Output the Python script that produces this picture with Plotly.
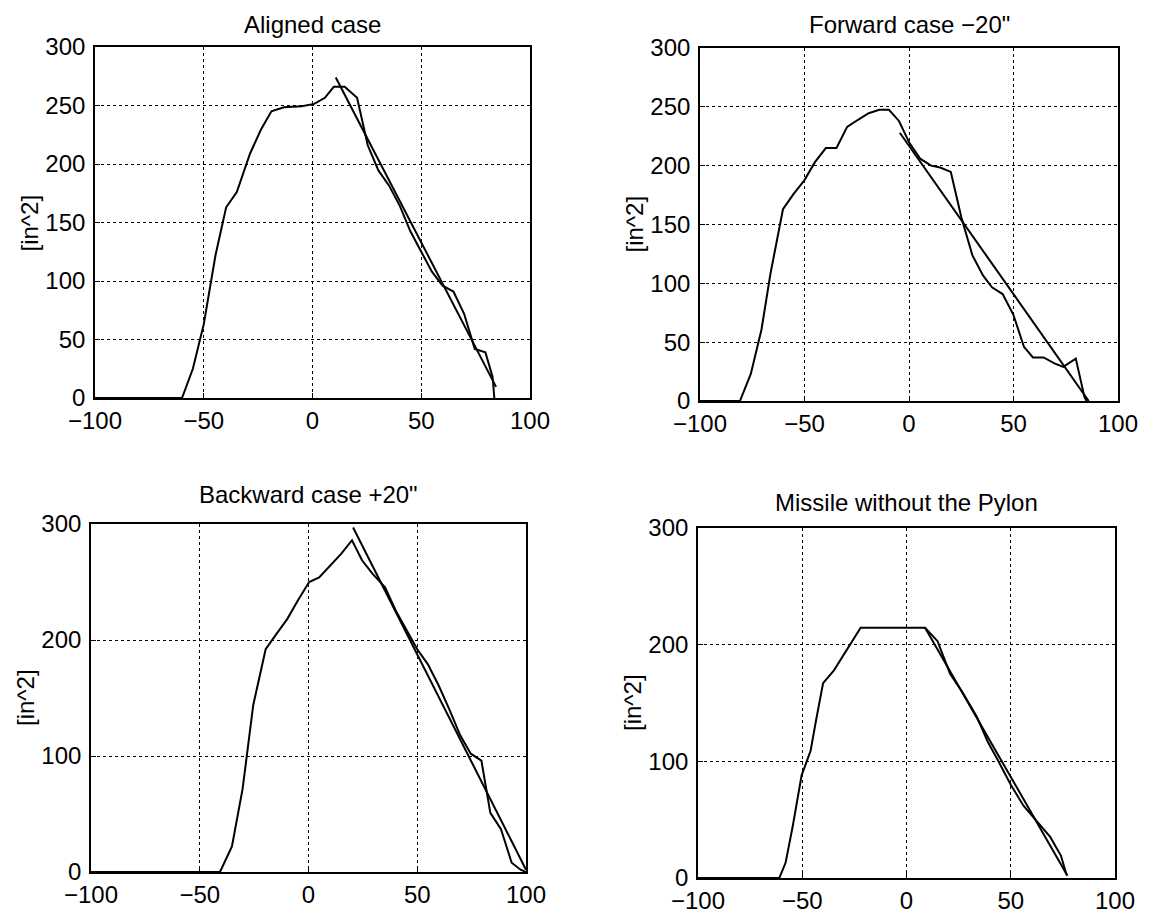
import plotly.graph_objects as go

# ---- data ----
aligned_x = [-100, -60, -55, -50, -44.6, -39.7, -34.8, -28.7, -23.8, -18.9, -13.1, -4.9, 0.8, 5.7, 9.8, 14.8,
             20.5, 25.4, 30.3, 35.2, 40.2, 45, 50, 54.9, 59.8, 64.8, 69.7, 74.6, 79.5, 82.8, 83.6]
aligned_y = [0, 0, 25, 63, 122, 163, 176, 209, 229, 245, 248.5, 249.4, 251.4, 256.6, 266, 266,
             256.6, 216, 194.5, 181.5, 164, 142.5, 125, 108, 96, 91, 72, 42, 39, 18, 0]
aligned_fit_x = [10.7, 84.4]
aligned_fit_y = [274, 9.5]

forward_x = [-100, -80.9, -75.7, -70.6, -66.3, -60.3, -55.2, -50.1, -45, -39.8, -34.7, -29.6, -24.4, -19.3,
             -14.2, -9.6, -4.8, 0.3, 5.5, 10.6, 14.9, 20, 25.1, 30.3, 35.4, 39.7, 44.8, 49.9, 55, 59.3,
             64.4, 69.6, 73.8, 79.8, 84, 85]
forward_y = [0, 0, 23, 60.6, 108, 163, 176, 187.5, 203, 215, 215, 233, 239, 244.6,
             247.5, 247.5, 238, 219, 205.7, 200, 198.4, 194.7, 155.8, 124, 106.7, 96.6, 90.9, 73.5, 46, 37,
             37, 32, 29, 36, 3, 0]
forward_fit_x = [-4.4, 86]
forward_fit_y = [228, 0]

backward_x = [-100, -40.7, -35.2, -30.3, -25.4, -19.7, -14.8, -9.8, -4.9, 0.3, 4.9, 9.8, 15.1, 20, 24.6,
              29.5, 35.2, 40.2, 45.1, 50, 54.9, 59.8, 64.8, 69.7, 74.6, 79.5, 83.6, 88.5, 93.4, 97.5, 100]
backward_y = [0, 0, 22, 71.6, 144, 192, 205, 218, 234, 250, 254, 264, 274.5, 286, 268.7,
              257, 245.5, 225, 208, 192, 179, 161, 140, 118, 102, 96, 51, 37, 8, 2, 0]
backward_fit_x = [20.5, 100]
backward_fit_y = [297, 2]

missile_x = [-100, -61, -58, -54.5, -50.3, -46, -43.4, -40, -34.8, -29.7, -22, 8.9, 14.9, 20.9, 26.9,
             33.8, 38.9, 44.1, 50, 56.1, 62.1, 69, 74.1, 76.7]
missile_y = [0, 0, 13, 45, 88, 109, 135, 167, 178, 193, 214.5, 214.5, 203, 175, 159,
             138, 117, 100, 80, 62, 49, 35, 19, 3]
missile_fit_x = [8.9, 77.2]
missile_fit_y = [214.5, 2]

titles = ["Aligned case", "Forward case \u221220\"", "Backward case +20\"", "Missile without the Pylon"]
ylabel = "[in^2]"
x_ticks = [-100, -50, 0, 50, 100]
y_ticks_top = [0, 50, 100, 150, 200, 250, 300]
y_ticks_bottom = [0, 100, 200, 300]

# ---- layout geometry (page pixels; the page body has an 8px margin) ----
OFF = 8
W, H = 1153 - OFF, 916 - OFF
boxes = [  # left, right, top, bottom
    (95, 530, 47, 398),
    (700, 1118, 48, 401),
    (91, 526, 524, 872),
    (698, 1115, 528, 878),
]
series = [
    (aligned_x, aligned_y, aligned_fit_x, aligned_fit_y, y_ticks_top),
    (forward_x, forward_y, forward_fit_x, forward_fit_y, y_ticks_top),
    (backward_x, backward_y, backward_fit_x, backward_fit_y, y_ticks_bottom),
    (missile_x, missile_y, missile_fit_x, missile_fit_y, y_ticks_bottom),
]
title_y = [24, 24, 494, 502]
font = "Liberation Sans, Arial, Helvetica, sans-serif"


def px(v):
    return (v - OFF) / W


def py(v):
    return 1 - (v - OFF) / H


fig = go.Figure()
annotations = []
for i, ((l, r, t, b), (sx, sy, fx, fy, yt)) in enumerate(zip(boxes, series)):
    n = "" if i == 0 else str(i + 1)
    xa, ya = "x" + n, "y" + n
    fig.add_trace(go.Scatter(x=sx, y=sy, mode="lines", line=dict(color="black", width=2),
                             xaxis=xa, yaxis=ya, showlegend=False, cliponaxis=True))
    fig.add_trace(go.Scatter(x=fx, y=fy, mode="lines", line=dict(color="black", width=2),
                             xaxis=xa, yaxis=ya, showlegend=False, cliponaxis=True))
    axis_common = dict(showline=True, mirror=True, linecolor="black", linewidth=1.6,
                       ticks="inside", ticklen=5, tickcolor="black", automargin=False,
                       showgrid=True, gridcolor="black", griddash="dot", gridwidth=1,
                       zeroline=False, tickfont=dict(family=font, size=24, color="black"))
    fig.layout["xaxis" + n] = dict(domain=[px(l), px(r)], anchor=ya, range=[-100, 100],
                                  tickvals=x_ticks, ticklabelstandoff=0, **axis_common)
    fig.layout["yaxis" + n] = dict(domain=[py(b), py(t)], anchor=xa, range=[0, 300],
                                  tickvals=yt, ticklabelstandoff=3, **axis_common)
    annotations.append(dict(text=titles[i], xref="paper", yref="paper",
                            x=px((l + r) / 2), y=py(title_y[i]), xanchor="center", yanchor="middle",
                            showarrow=False, font=dict(family=font, size=24, color="black")))
    annotations.append(dict(text=ylabel, xref="paper", yref="paper", textangle=-90,
                            x=px(l - 66), y=py((t + b) / 2), xanchor="center", yanchor="middle",
                            showarrow=False, font=dict(family=font, size=24, color="black")))

fig.update_layout(width=W, height=H, margin=dict(l=0, r=0, t=0, b=0),
                  paper_bgcolor="white", plot_bgcolor="white", annotations=annotations,
                  showlegend=False)
fig.write_html("out.html")
